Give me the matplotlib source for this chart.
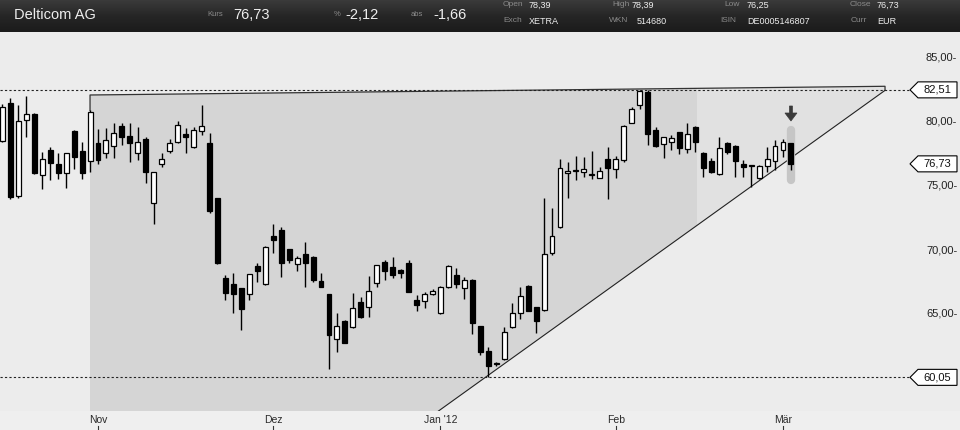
import numpy as np
import matplotlib
matplotlib.use("Agg")
import matplotlib.pyplot as plt
from matplotlib.patches import Polygon
from matplotlib.colors import LinearSegmentedColormap

plt.rcParams['font.family'] = ['Liberation Sans', 'DejaVu Sans']

# ---------------- data ----------------
opens = [78.54, 81.51, 74.24, 80.13, 80.63, 75.84, 77.81, 76.72, 75.99, 79.30,
         77.73, 76.95, 78.38, 77.55, 78.13, 79.69, 78.91, 77.55, 78.67, 73.65,
         76.70, 77.76, 78.46, 79.06, 78.07, 79.32, 78.38, 74.04, 67.79, 67.32,
         67.01, 66.54, 68.75, 67.32, 71.09, 71.56, 70.05, 68.88, 69.69, 69.43,
         67.58, 66.56, 63.02, 64.45, 63.96, 65.91, 65.57, 67.40, 69.06, 68.65,
         68.44, 68.96, 66.09, 66.04, 66.54, 65.05, 67.09, 68.05, 67.01, 67.66,
         64.06, 62.11, 61.08, 61.46, 64.01, 65.05, 67.19, 65.52, 65.31, 69.79,
         71.82, 75.99, 76.18, 76.12, 75.88, 75.65, 77.11, 76.30, 77.03, 79.95,
         81.33, 82.37, 79.38, 78.26, 78.41, 79.20, 77.89, 79.59, 77.55, 76.95,
         75.91, 78.38, 78.13, 76.70, 76.56, 75.60, 76.56, 76.95, 77.81, 78.39]
highs = [81.40, 81.85, 81.33, 82.03, 80.70, 77.68, 78.07, 77.55, 77.60, 79.35,
         78.46, 80.90, 79.43, 79.55, 79.90, 79.95, 79.90, 79.63, 78.85, 76.10,
         77.55, 78.65, 80.08, 79.51, 79.63, 81.33, 79.12, 74.10, 68.05, 68.18,
         67.05, 68.15, 68.96, 70.30, 72.03, 71.82, 70.10, 69.53, 70.65, 69.50,
         68.23, 66.60, 65.10, 64.50, 66.66, 66.30, 67.99, 68.85, 69.22, 69.48,
         68.50, 69.22, 66.48, 66.74, 66.93, 67.20, 68.80, 68.57, 67.91, 67.70,
         64.10, 62.45, 61.27, 64.01, 65.88, 67.13, 67.25, 65.55, 74.06, 73.30,
         77.09, 76.90, 77.34, 77.24, 77.73, 76.51, 78.07, 77.34, 79.75, 81.20,
         82.51, 82.51, 79.63, 78.85, 78.98, 79.25, 79.90, 79.65, 77.68, 77.16,
         78.85, 78.46, 78.20, 77.03, 76.60, 76.65, 78.07, 78.59, 78.65, 78.39]
lows = [78.40, 74.00, 74.10, 78.85, 75.95, 74.74, 75.47, 75.52, 74.82, 76.30,
        75.52, 76.12, 76.72, 77.16, 77.16, 78.20, 76.90, 77.03, 75.21, 72.03,
        76.51, 77.55, 78.38, 77.60, 77.95, 78.98, 72.91, 68.90, 66.09, 65.05,
        63.75, 66.09, 67.52, 67.25, 69.79, 67.91, 68.96, 68.38, 67.09, 67.52,
        67.10, 60.68, 62.05, 62.70, 63.90, 64.70, 64.79, 67.13, 67.66, 67.79,
        67.79, 66.70, 65.26, 65.45, 66.48, 65.00, 67.05, 67.06, 66.15, 63.41,
        61.80, 60.05, 60.96, 61.40, 63.88, 64.59, 65.20, 63.54, 65.25, 69.61,
        71.75, 74.04, 75.47, 75.73, 75.52, 75.60, 73.96, 75.60, 76.90, 79.90,
        80.99, 78.20, 78.07, 77.16, 77.81, 77.50, 77.60, 77.68, 75.73, 76.00,
        75.85, 77.50, 75.73, 75.73, 74.95, 75.55, 76.12, 76.25, 77.24, 76.25]
closes = [81.20, 74.12, 80.10, 80.63, 76.04, 77.09, 76.77, 75.99, 77.55, 77.29,
          75.99, 80.80, 77.03, 78.57, 79.12, 78.80, 78.34, 78.41, 76.12, 76.07,
          77.09, 78.34, 79.77, 78.80, 79.38, 79.69, 73.07, 68.96, 66.66, 66.54,
          65.37, 68.10, 68.38, 70.21, 70.78, 69.01, 69.22, 69.35, 69.01, 67.66,
          67.13, 63.34, 64.06, 62.76, 65.45, 64.74, 66.80, 68.80, 68.38, 68.05,
          68.23, 66.74, 65.70, 66.54, 66.80, 67.09, 68.75, 67.34, 67.66, 64.27,
          62.05, 60.96, 61.12, 63.57, 65.05, 66.41, 65.26, 64.48, 69.69, 71.09,
          76.38, 76.20, 76.20, 76.33, 75.89, 76.20, 76.43, 77.11, 79.69, 80.99,
          82.45, 79.04, 78.15, 78.80, 78.73, 77.95, 79.06, 78.46, 76.38, 76.07,
          77.95, 77.68, 76.98, 76.51, 76.56, 76.56, 77.09, 78.13, 78.46, 76.73]

month_labels = ["Nov", "Dez", "Jan '12", "Feb", "Mär"]
month_idx = [12, 34, 55, 77, 98]
price_ticks = [85, 80, 75, 70, 65]
price_tick_labels = ["85,00-", "80,00-", "75,00-", "70,00-", "65,00-"]
resistance = 82.51
support = 60.05
last_close = 76.73
level_labels = ["82,51", "76,73", "60,05"]

# ---------------- geometry helpers ----------------
W, H = 960, 430
fig = plt.figure(figsize=(W / 100, H / 100), dpi=100, facecolor='#EFEFEF')

top_px, bot_px = 32, 411
ax = fig.add_axes([0, 1 - bot_px / H, 1, (bot_px - top_px) / H])
ymin = 85 - (bot_px - 58) / 12.8
ymax = 85 + (58 - top_px) / 12.8
xmin = 12 + (0 - 98) / 7.965
xmax = 12 + (W - 98) / 7.965
ax.set_xlim(xmin, xmax)
ax.set_ylim(ymin, ymax)
ax.set_facecolor('#ECECEC')
for s in ax.spines.values():
    s.set_visible(False)
ax.set_xticks([])
ax.set_yticks([])

def ypx(p):
    return 58 + (85 - p) * 12.8

# ---------------- triangle shading ----------------
ux0, uy0, ux1, uy1 = 11, 82.11, 110.81, 82.79
lx0, ly0, lx1, ly1 = 54.75, ymin, 110.81, 82.47
def U(xv):
    return uy0 + (xv - ux0) * (uy1 - uy0) / (ux1 - ux0)
def L(xv):
    return ly0 + (xv - lx0) * (ly1 - ly0) / (lx1 - lx0)

tri = Polygon([(ux0, ymin), (ux0, uy0), (ux1, uy1), (lx1, ly1), (lx0, ly0)],
              closed=True, facecolor='#E1E1E1', edgecolor='none', zorder=0)
ax.add_patch(tri)
cut = 87.2
dark = Polygon([(ux0, ymin), (ux0, uy0), (cut, U(cut)), (cut, L(cut)), (lx0, ly0)],
               closed=True, facecolor='#D5D5D5', edgecolor='none', zorder=0.5)
ax.add_patch(dark)
ax.plot([ux0, ux0, ux1, lx1], [80.9, uy0, uy1, ly1], color='#333333', lw=0.9, zorder=1)
ax.plot([lx0, lx1], [ly0, ly1], color='#222222', lw=0.8, zorder=1)

# level dashed lines
xend = 12 + (910 - 98) / 7.965
for lvl in (resistance, support):
    ax.plot([xmin, xend], [lvl, lvl], color='#222222', lw=0.8,
            linestyle=(0, (2, 2)), zorder=1)

# highlight behind last candle
n = len(opens)
last = n - 1
ax.plot([last, last], [75.45, 79.35], color='#C6C6C6', lw=6,
        solid_capstyle='round', zorder=1.5)

# ---------------- candles ----------------
x = np.arange(n)
o = np.array(opens); h = np.array(highs); l = np.array(lows); c = np.array(closes)
ax.vlines(x, l, h, color='black', lw=1.0, zorder=2)
up = c >= o
body_b = np.minimum(o, c)
body_h = np.maximum(np.abs(c - o), 0.06)
ax.bar(x[up], body_h[up], bottom=body_b[up], width=0.62, facecolor='white',
       edgecolor='black', linewidth=0.9, zorder=3)
ax.bar(x[~up], body_h[~up], bottom=body_b[~up], width=0.62, facecolor='black',
       edgecolor='black', linewidth=0.9, zorder=3)

# down arrow above last candle (pixel-sized, anchored to candle's x)
fig.canvas.draw()
xp_last = ax.transData.transform((last, 0))[0]  # display px from left
ar = [(-1.5, 106), (1.5, 106), (1.5, 113), (6, 113), (0, 121), (-6, 113), (-1.5, 113)]
arrow = Polygon([((xp_last + dx) / W, 1 - py / H) for dx, py in ar], closed=True,
                transform=fig.transFigure, facecolor='#3A3A3A', edgecolor='#3A3A3A',
                lw=0.5)
fig.add_artist(arrow)

# ---------------- x axis labels ----------------
for lab, i in zip(month_labels, month_idx):
    xf = (i - xmin) / (xmax - xmin)
    fig.text(xf, 1 - 420 / H, lab, ha='center', va='center', fontsize=7.5,
             color='#2a2a2a')
    fig.add_artist(plt.Line2D([xf, xf], [1 - 426 / H, 1 - 430 / H],
                              color='#333333', lw=0.8))

# ---------------- right price labels ----------------
for p, lab in zip(price_ticks, price_tick_labels):
    fig.text(926 / W, 1 - ypx(p) / H, lab, ha='left', va='center',
             fontsize=8, color='#222222')

for p, lab in zip([resistance, last_close, support], level_labels):
    yc = ypx(p)
    pts = [(910, yc), (918, yc - 8), (957, yc - 8), (957, yc + 8), (918, yc + 8)]
    poly = Polygon([(px / W, 1 - py / H) for px, py in pts], closed=True,
                   transform=fig.transFigure, facecolor='white',
                   edgecolor='black', lw=0.8)
    fig.add_artist(poly)
    fig.text(937.5 / W, 1 - yc / H, lab, ha='center', va='center',
             fontsize=8, color='#111111')

# ---------------- header ----------------
hax = fig.add_axes([0, 1 - top_px / H, 1, top_px / H])
grad = np.linspace(0, 1, 32).reshape(-1, 1)
cm = LinearSegmentedColormap.from_list('hdr', ['#3a3a3a', '#262626', '#1b1b1b'])
hax.imshow(grad, aspect='auto', cmap=cm, extent=[0, 1, 0, 1], origin='upper')
hax.set_axis_off()

def htext(xp, yp, s, size, color, weight='normal'):
    fig.text(xp / W, 1 - yp / H, s, ha='left', va='center', fontsize=size,
             color=color, fontweight=weight)

htext(14, 15, "Delticom AG", 10.5, '#EEEEEE')
htext(207, 15, "Kurs", 5.5, '#8A8A8A')
htext(233, 15, "76,73", 10.5, '#EEEEEE')
htext(334, 15, "%", 5.5, '#8A8A8A')
htext(345, 15, "-2,12", 10.5, '#EEEEEE')
htext(411, 15, "abs", 5.5, '#8A8A8A')
htext(433, 15, "-1,66", 10.5, '#EEEEEE')

row1, row2 = 5, 21
hdr = [(503, "Open", 529, "78,39", row1), (612, "High", 632, "78,39", row1),
       (724, "Low", 747, "76,25", row1), (850, "Close", 877, "76,73", row1),
       (503, "Exch", 529, "XETRA", row2), (609, "WKN", 637, "514680", row2),
       (720, "ISIN", 747, "DE0005146807", row2), (851, "Curr", 877, "EUR", row2)]
for lx, lt, vx, vt, ry in hdr:
    htext(lx, ry, lt, 6, '#8A8A8A')
    htext(vx, ry, vt, 6.5, '#EEEEEE')

fig.savefig('out.png', dpi=100, facecolor=fig.get_facecolor())
